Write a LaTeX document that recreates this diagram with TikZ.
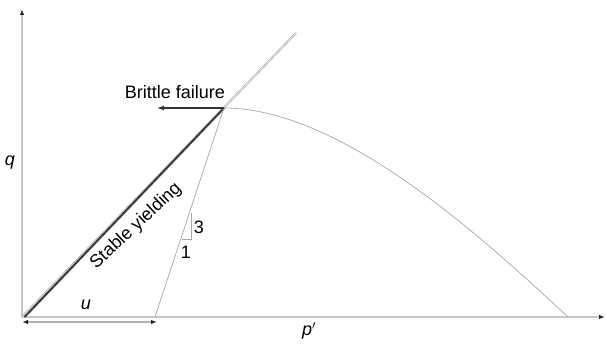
\documentclass[tikz,border=0pt]{standalone}
\usepackage{fontspec}
\setmainfont{Liberation Sans}
\usetikzlibrary{arrows.meta}
\begin{document}
\begin{tikzpicture}[x=1pt,y=-1pt,
  axis/.style={draw=black!22,line width=1.6pt,-{Latex[length=6pt,width=4.5pt,black!85]}},
  dim/.style={draw=black!30,line width=1.2pt,{Latex[length=6pt,width=4.5pt,black!85]}-{Latex[length=6pt,width=4.5pt,black!85]}},
  thin/.style={draw=black!35,line width=0.7pt},
  lbl/.style={font=\fontsize{18}{20}\selectfont,inner sep=0pt},
  ilbl/.style={font=\fontsize{18}{20}\selectfont\itshape,inner sep=0pt}]
\useasboundingbox (0,0) rectangle (606,345);
\coordinate (O) at (22,317);
\coordinate (P) at (224,108);
\coordinate (E) at (296,33);
\coordinate (C) at (568,317);
\coordinate (U) at (155,317);
\coordinate (Xend) at (605,317);
\coordinate (Yend) at (22,9);
\coordinate (B) at (157,108);
\coordinate (ua) at (22,322);
\coordinate (ub) at (157,322);
% axes
\draw[axis] (O) -- (Xend);
\draw[axis] (O) -- (Yend);
% failure line (double gray)
\draw[draw=black!35,double=black!8,double distance=0.8pt,line width=0.6pt] (O) -- (E);
% stable yielding thick line
\draw[draw=black!40,line width=2.6pt] ([xshift=2.5pt]O) -- (P);
\draw[draw=black!80,line width=1.5pt] ([xshift=2.5pt]O) -- (P);
% yield curve
\draw[thin] (P) .. controls (340,108) and (480,235) .. (C);
% 3:1 line
\draw[thin] (U) -- (P);
\coordinate (t1) at (182,239);
\coordinate (t2) at (191,239);
\coordinate (t3) at (191,213);
\draw[thin] (t1) -- (t2) -- (t3);
\node[lbl] (n3) at (199,227) {3};
\node[lbl] (n1) at (186,252) {1};
% brittle arrow
\draw[draw=black!80,line width=1.2pt,-{Latex[length=7pt,width=5pt]}] (P) -- (B);
\node[lbl] (bf) at (175,92) {Brittle failure};
\node[lbl,rotate=43] (sy) at (136,226) {Stable yielding};
% u dimension
\draw[dim] (ua) -- (ub);
\node[ilbl] (u) at (86,305) {u};
\node[ilbl] (p) at (309,331) {p$'$};
\node[ilbl] (q) at (10,163) {q};
\end{tikzpicture}
\end{document}
